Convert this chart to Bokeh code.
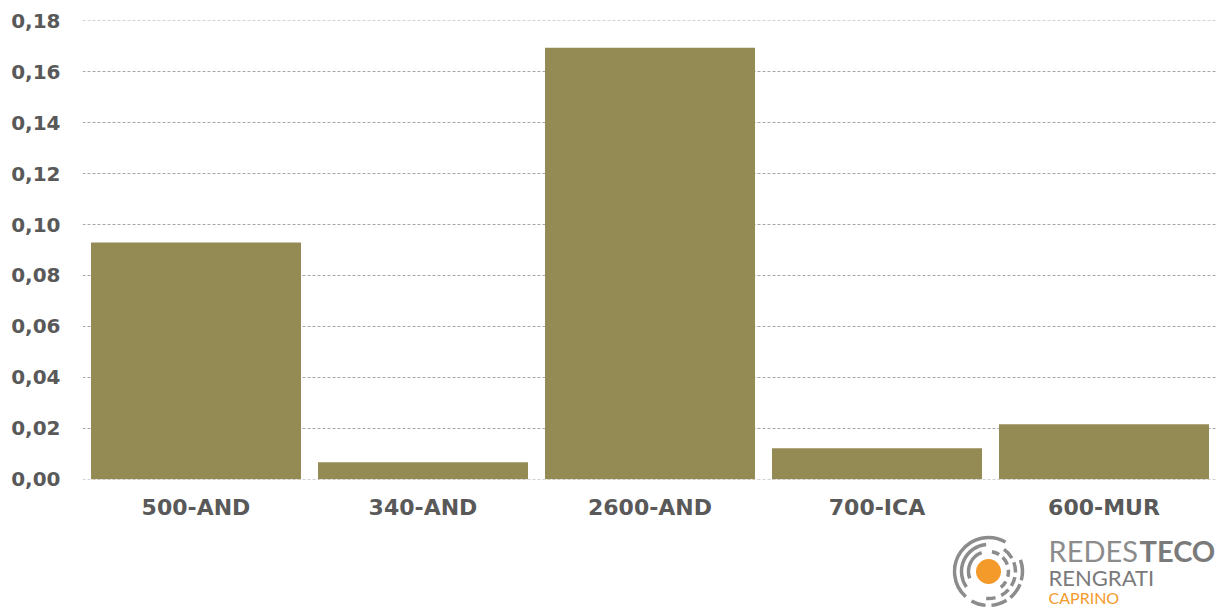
from bokeh.plotting import figure
from bokeh.models import FactorRange, Range1d, FixedTicker, CustomJSTickFormatter, Spacer
from bokeh.layouts import column, row
from bokeh.core.properties import value
from bokeh.embed import file_html
from bokeh.resources import INLINE

categories = ["500-AND", "340-AND", "2600-AND", "700-ICA", "600-MUR"]
values = [0.0929, 0.0067, 0.1694, 0.0122, 0.0216]
y_ticks = [0.0, 0.02, 0.04, 0.06, 0.08, 0.10, 0.12, 0.14, 0.16, 0.18]

BAR = "#948A54"
TXT = "#595959"
FONT = "DejaVu Sans"

p = figure(x_range=FactorRange(*categories), y_range=Range1d(-0.0001, 0.1801),
           width=1217, height=530, output_backend="svg", toolbar_location=None,
           min_border_left=82, min_border_right=0, min_border_top=20, min_border_bottom=51)
p.vbar(x=categories, top=values, width=0.925, fill_color=BAR, line_color=None)

p.outline_line_color = None
p.xgrid.grid_line_color = None
p.ygrid.grid_line_color = "#a6a6a6"
p.ygrid.grid_line_dash = "3 2"
p.ygrid.grid_line_width = 1

p.yaxis.ticker = FixedTicker(ticks=y_ticks)
p.yaxis.formatter = CustomJSTickFormatter(code="return tick.toFixed(2).replace('.', ',');")
for ax in (p.xaxis, p.yaxis):
    ax.axis_line_color = None
    ax.major_tick_line_color = None
    ax.minor_tick_line_color = None
    ax.major_tick_out = 0
    ax.major_tick_in = 0
    ax.minor_tick_out = 0
    ax.major_label_text_font = FONT
    ax.major_label_text_font_style = "bold"
    ax.major_label_text_color = TXT
p.yaxis.major_label_text_font_size = "20px"
p.xaxis.major_label_text_font_size = "22px"
p.yaxis.major_label_standoff = 22
p.xaxis.major_label_standoff = 15

# logo
lg = figure(width=265, height=78, x_range=Range1d(0, 265), y_range=Range1d(0, 78),
            output_backend="svg", toolbar_location=None,
            min_border=0, outline_line_color=None)
lg.axis.visible = False
lg.grid.visible = False
cx, cy = 36, 37
arc_r = [34, 34, 34, 34, 34, 27, 27, 27, 27, 27, 27, 20, 20, 20, 20, 20]
arc_s = [60, -15, -50, -85, -120, 95, 30, -2, -32, -62, -95, 110, 58, 20, -15, -52]
arc_e = [228, 20, -22, -58, -95, 215, 55, 20, -12, -42, -75, 200, 80, 45, 5, -30]
lg.arc(x=[cx] * len(arc_r), y=[cy] * len(arc_r), radius=arc_r, start_angle=arc_s,
       end_angle=arc_e, start_angle_units="deg", end_angle_units="deg",
       line_color="#8c8c8c", line_width=3.5, radius_units="screen")
lg.scatter(x=[cx], y=[cy], size=25, fill_color="#F39A2B", line_color=None)
lg.text(x=[96], y=[58], text=["REDES"], text_font=value("Lato"), text_font_size="29px",
        text_color="#8c8c8c", text_baseline="middle")
lg.text(x=[187], y=[58], text=["TECO"], text_font=value("Lato"), text_font_size="29px",
        text_font_style="bold", text_color="#7a7a7a", text_baseline="middle")
lg.text(x=[96], y=[31], text=["RENGRATI"], text_font=value("Lato"), text_font_size="22px",
        text_color="#7a7a7a", text_baseline="middle")
lg.text(x=[96], y=[11], text=["CAPRINO"], text_font=value("Lato"), text_font_size="16px",
        text_color="#F39A2B", text_baseline="middle")

layout = column(p, row(Spacer(width=952, height=78), lg))
open("out.html", "w").write(file_html(layout, INLINE))
